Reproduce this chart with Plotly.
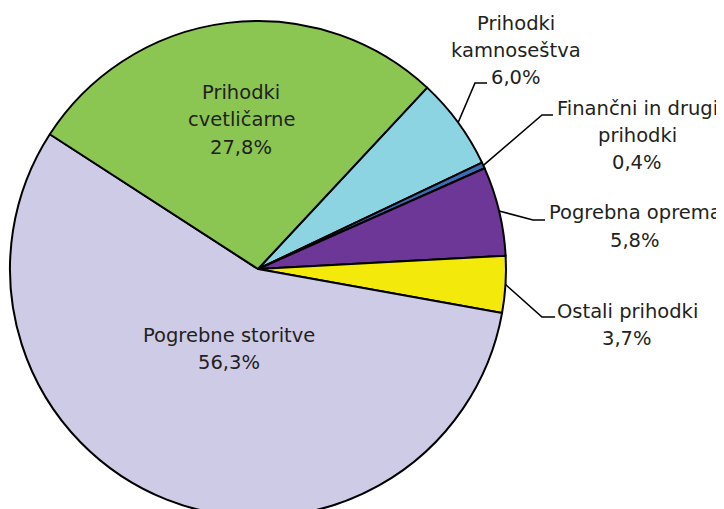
import math
import plotly.graph_objects as go

# ---- data ----
categories = ["Prihodki kamnoseštva", "Finančni in drugi prihodki", "Pogrebna oprema",
              "Ostali prihodki", "Pogrebne storitve", "Prihodki cvetličarne"]
values = [6.0, 0.4, 5.8, 3.7, 56.3, 27.8]
label_lines = [["Prihodki", "kamnoseštva"], ["Finančni in drugi", "prihodki"], ["Pogrebna oprema"],
               ["Ostali prihodki"], ["Pogrebne storitve"], ["Prihodki", "cvetličarne"]]
colors = ["#8CD4E2", "#3B6DB4", "#6C3797", "#F3EA0C", "#CECBE7", "#8AC651"]

# ---- layout (screen pixels; page body has an 8px margin) ----
W, H = 724, 509
OFF = 8
CX, CY, R = 258, 269, 248
ROT = 43
FONT = "DejaVu Sans"
FS = 19.5
LH = 27
TXT = "#231F20"

# label anchor (x center, y of first line center); leader elbow & end (None = inside label)
label_pos = [(516, 24), (637, 108), (635, 213), (627, 311), (229, 335), (241, 93)]
leader = [((475, 83), (487, 83)), ((542, 115), (553, 115)), ((533, 220), (545, 220)),
          ((542, 317), (555, 317)), None, None]


def px(x):
    return (x - OFF) / W


def py(y):
    return 1 - (y - OFF) / H


fig = go.Figure(go.Pie(
    labels=categories, values=values, sort=False, direction="clockwise", rotation=ROT,
    marker=dict(colors=colors, line=dict(color="black", width=2)),
    textinfo="none", hoverinfo="label+percent", showlegend=False,
    domain=dict(x=[px(CX - R), px(CX + R)], y=[max(0, py(CY + R)), py(CY - R)]),
))

annotations = []
shapes = []
total = sum(values)
cum = 0.0
for i, v in enumerate(values):
    mid = ROT + (cum + v / 2) / total * 360
    cum += v
    lines = label_lines[i] + [f"{v:.1f}".replace(".", ",") + "%"]
    lx, ly = label_pos[i]
    for k, t in enumerate(lines):
        annotations.append(dict(
            x=px(lx), y=py(ly + k * LH), xref="paper", yref="paper", text=t, showarrow=False,
            xanchor="center", yanchor="middle", font=dict(family=FONT, size=FS, color=TXT)))
    if leader[i] is not None:
        a = math.radians(mid)
        sx, sy = CX + R * math.sin(a), CY - R * math.cos(a)
        (ex, ey), (fx, fy) = leader[i]
        shapes.append(dict(type="path", xref="paper", yref="paper",
                           path=f"M {px(sx)} {py(sy)} L {px(ex)} {py(ey)} L {px(fx)} {py(fy)}",
                           line=dict(color="black", width=1.6)))

fig.update_layout(width=W, height=H, margin=dict(l=0, r=0, t=0, b=0),
                  paper_bgcolor="white", plot_bgcolor="white",
                  annotations=annotations, shapes=shapes)
fig.write_html("out.html")
